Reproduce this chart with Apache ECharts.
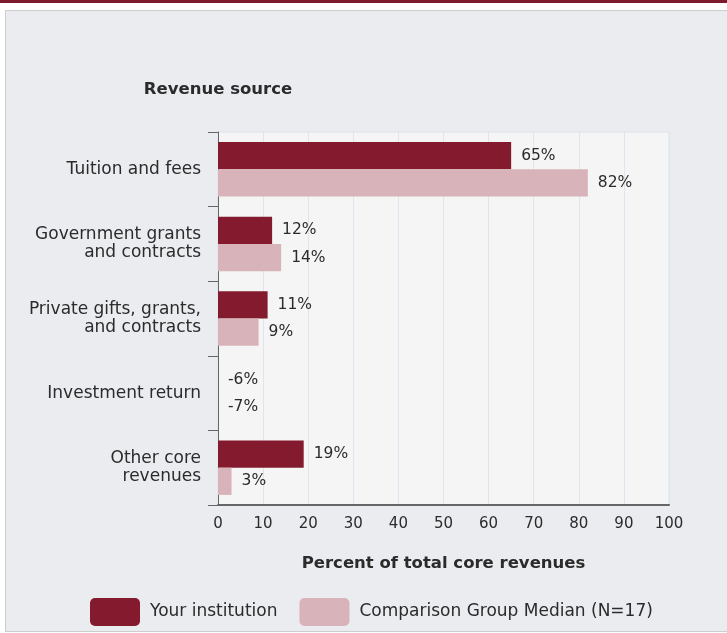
<!DOCTYPE html>
<html>
<head>
<meta charset="utf-8">
<title>Revenue source</title>
<script src="https://cdn.jsdelivr.net/npm/echarts@6/dist/echarts.min.js"></script>
<style>
  html, body {
    margin: 0;
    padding: 0;
    background: #fff;
    overflow: hidden;
  }
  .top-band {
    position: absolute;
    left: 0;
    top: 0;
    width: 727px;
    height: 3px;
    background: #7e1a2e;
  }
  .panel {
    position: absolute;
    left: 5px;
    top: 10px;
    width: 740px;
    height: 620px;
    background: #ebecf0;
    border: 1px solid #cdcdcd;
  }
  #chart {
    position: absolute;
    left: 0;
    top: 0;
    width: 727px;
    height: 633px;
  }
</style>
</head>
<body>
<div class="top-band"></div>
<div class="panel"></div>
<div id="chart"></div>
<script>
// 数据
const categories = [
  'Tuition and fees',
  'Government grants\nand contracts',
  'Private gifts, grants,\nand contracts',
  'Investment return',
  'Other core\nrevenues',
]
const yourInstitution = [65, 12, 11, -6, 19]
const comparisonMedian = [82, 14, 9, -7, 3]
const xTicks = [0, 100, 10] // min, max, interval

const FONT = 'DejaVu Sans'
const TEXT = '#2b2b2b'

// 图例用的小圆角矩形
const LEGEND_ICON =
  'path://M5,0 H45 A5,5 0 0 1 50,5 V23 A5,5 0 0 1 45,28 H5 A5,5 0 0 1 0,23 V5 A5,5 0 0 1 5,0 Z'

// 负值在 0 起点的轴上看不到柱子，只留下标签
function toItems(values) {
  return values.map((v) => {
    if (v < 0) {
      return { value: v, itemStyle: { color: 'rgba(0,0,0,0)' } }
    }
    return v
  })
}

const chartInstance = echarts.init(document.getElementById('chart'), null, {
  renderer: 'canvas',
})

const valueLabel = {
  show: true,
  position: 'right',
  distance: 10,
  formatter: '{c}%',
  color: TEXT,
  fontFamily: FONT,
  fontSize: 15.5,
}

const option = {
  backgroundColor: 'transparent',
  animation: false,
  textStyle: { fontFamily: FONT },
  grid: {
    left: 218,
    right: 58,
    top: 132,
    bottom: 128,
    show: true,
    backgroundColor: '#f5f5f5',
    borderColor: '#dde2ea',
    borderWidth: 1,
  },
  legend: {
    left: 85,
    top: 593,
    itemWidth: 50,
    itemHeight: 28,
    itemGap: 22,
    icon: LEGEND_ICON,
    textStyle: {
      color: TEXT,
      fontFamily: FONT,
      fontSize: 17,
      padding: [0, 0, 0, 5],
    },
    data: ['Your institution', 'Comparison Group Median (N=17)'],
  },
  xAxis: {
    type: 'value',
    min: xTicks[0],
    max: xTicks[1],
    interval: xTicks[2],
    name: 'Percent of total core revenues',
    nameLocation: 'middle',
    nameGap: 50,
    nameTextStyle: {
      color: TEXT,
      fontFamily: FONT,
      fontSize: 16.5,
      fontWeight: 'bold',
    },
    axisLine: { show: true, lineStyle: { color: '#666', width: 2 } },
    axisTick: { show: false },
    axisLabel: {
      color: TEXT,
      fontFamily: FONT,
      fontSize: 15,
      margin: 12,
    },
    splitLine: { show: true, lineStyle: { color: '#dfe4ee', width: 1 } },
  },
  yAxis: {
    type: 'category',
    inverse: true,
    data: categories,
    name: 'Revenue source',
    // inverse 之后 start 在上面
    nameLocation: 'start',
    nameGap: 34,
    nameTextStyle: {
      color: TEXT,
      fontFamily: FONT,
      fontSize: 16.5,
      fontWeight: 'bold',
    },
    axisLine: { show: true, lineStyle: { color: '#666', width: 1 } },
    axisTick: { show: true, length: 10, lineStyle: { color: '#666' } },
    axisLabel: {
      color: TEXT,
      fontFamily: FONT,
      fontSize: 17,
      lineHeight: 18,
      margin: 17,
      align: 'right',
    },
    splitLine: { show: false },
  },
  series: [
    {
      name: 'Your institution',
      type: 'bar',
      clip: false,
      barGap: '0%',
      barCategoryGap: '27%',
      itemStyle: { color: '#831a2e' },
      label: valueLabel,
      data: toItems(yourInstitution),
    },
    {
      name: 'Comparison Group Median (N=17)',
      type: 'bar',
      clip: false,
      barGap: '0%',
      barCategoryGap: '27%',
      itemStyle: { color: '#d8b3b9' },
      label: valueLabel,
      data: toItems(comparisonMedian),
    },
  ],
}

chartInstance.setOption(option)
</script>
</body>
</html>
